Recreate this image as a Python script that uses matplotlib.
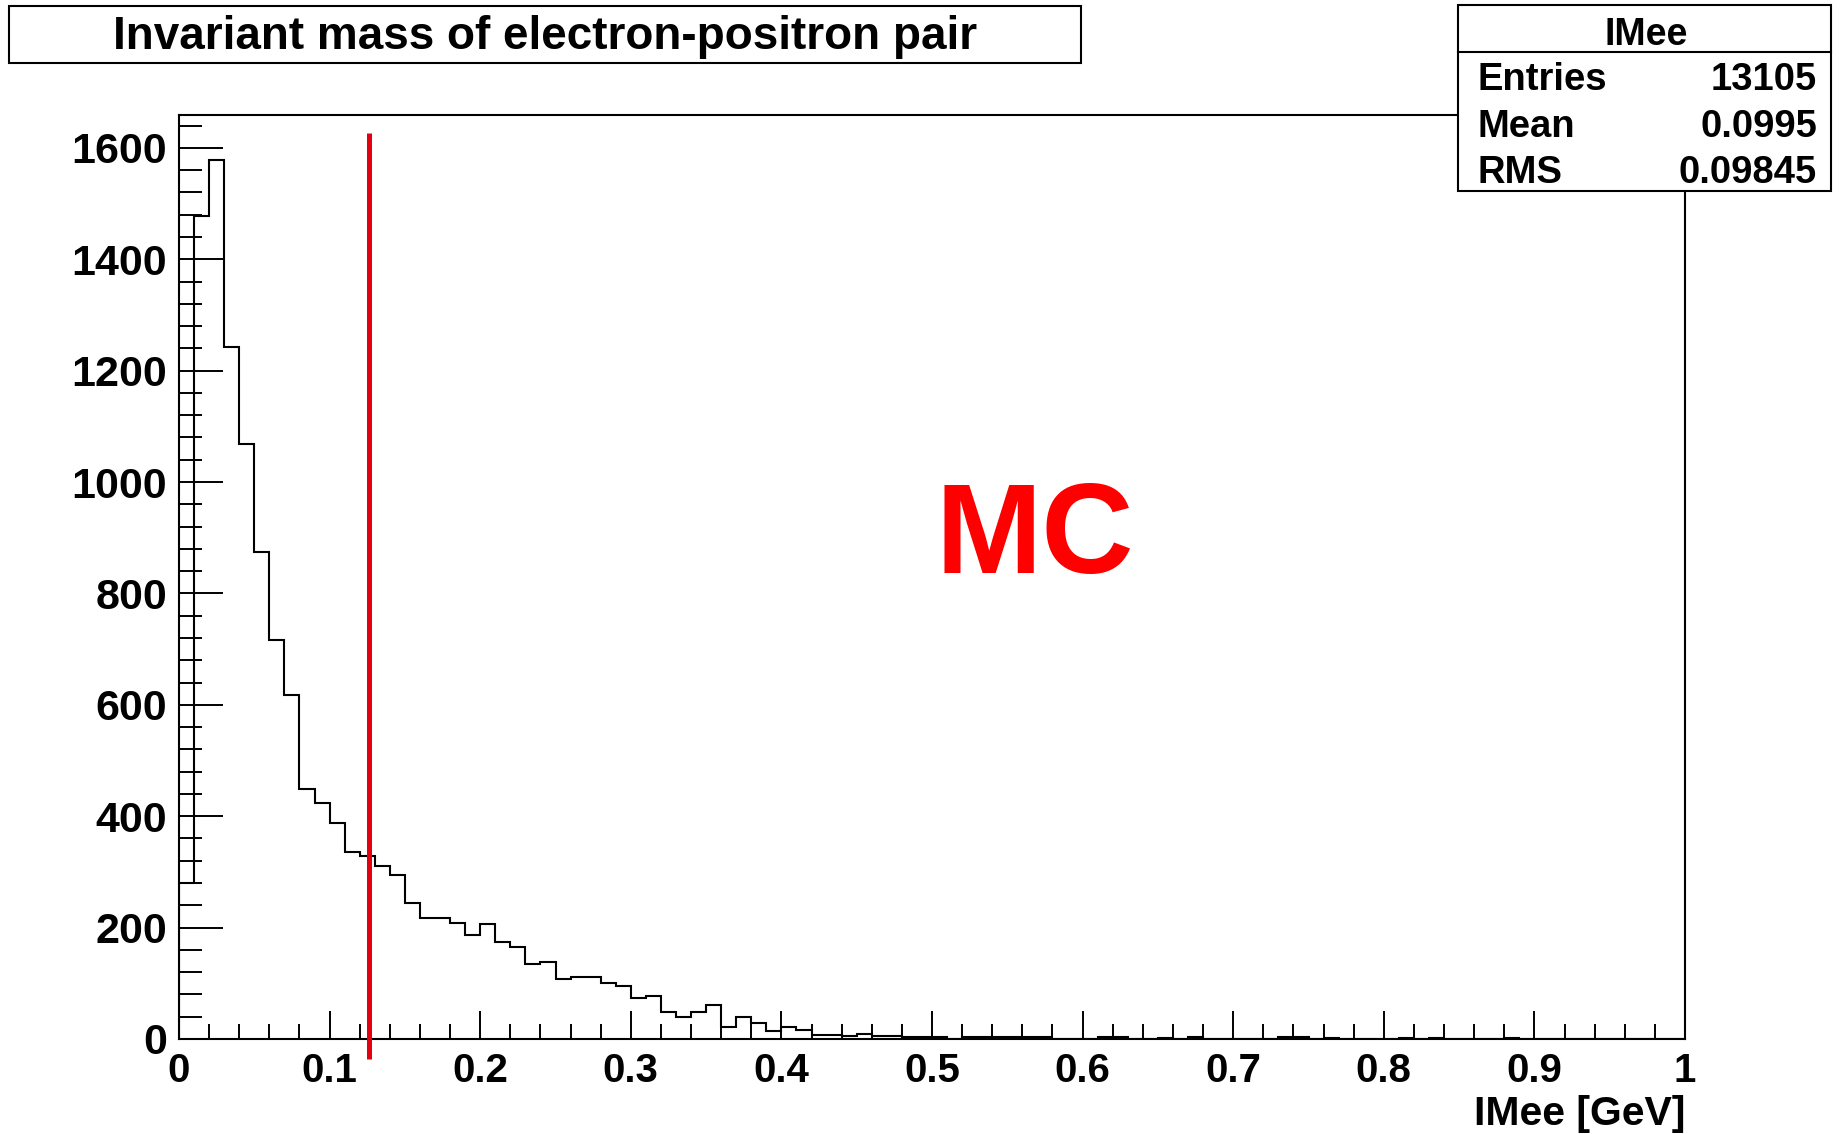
import numpy as np
import matplotlib
matplotlib.use("Agg")
import matplotlib.pyplot as plt
from matplotlib.patches import Rectangle
from matplotlib.ticker import MultipleLocator

# Histogram of e+e- invariant mass: 100 bins over [0, 1] GeV
bin_lo, bin_hi, n_bins = 0.0, 1.0, 100
counts = [
    280, 1478, 1578, 1243, 1069, 875, 716, 618, 448, 423,
    387, 335, 329, 311, 294, 245, 218, 218, 209, 187,
    207, 175, 166, 135, 138, 107, 111, 111, 101, 95,
    73, 77, 49, 39, 49, 61, 21, 39, 28, 15,
    21, 17, 8, 8, 5, 9, 5, 5, 4, 4,
    3, 0, 3, 3, 3, 3, 3, 3, 0, 0,
    0, 3, 3, 0, 0, 2, 0, 3, 0, 0,
    0, 0, 0, 3, 3, 0, 2, 0, 0, 0,
    0, 2, 0, 2, 0, 0, 0, 0, 2, 0,
    0, 0, 0, 0, 0, 0, 0, 0, 0, 0,
]
cut_value = 0.1264
cut_span = (-36, 1627)

title_text = "Invariant mass of electron-positron pair"
xlabel_text = "IMee [GeV]"
hist_name = "IMee"
stat_labels = ["Entries", "Mean", "RMS"]
stat_values = ["13105", "0.0995", "0.09845"]
tag_text = "MC"

W, H, DPI = 1841, 1134, 100
plt.rcParams['font.family'] = ['Liberation Sans', 'DejaVu Sans']
plt.rcParams['font.weight'] = 'bold'

fig = plt.figure(figsize=(W / DPI, H / DPI), dpi=DPI)
fig.patch.set_facecolor('white')


def fx(px):
    return px / W


def fy(py):
    return 1 - py / H


# plot frame in pixel units
left, right, top, bottom = 179, 1685, 115, 1039
ax = fig.add_axes([fx(left), fy(bottom), fx(right - left), (bottom - top) / H])

edges = np.linspace(bin_lo, bin_hi, n_bins + 1)
ax.stairs(counts, edges, color='black', lw=1.5, baseline=0)

ax.set_xlim(0, 1)
ax.set_ylim(0, 1659)

ax.xaxis.set_major_locator(MultipleLocator(0.1))
ax.xaxis.set_minor_locator(MultipleLocator(0.02))
ax.yaxis.set_major_locator(MultipleLocator(200))
ax.yaxis.set_minor_locator(MultipleLocator(40))
ax.xaxis.set_major_formatter(matplotlib.ticker.FuncFormatter(
    lambda v, p: f"{v:g}"))

ax.tick_params(axis='x', which='major', direction='in', length=20, width=1.4,
               labelsize=29, pad=9.5)
ax.tick_params(axis='x', which='minor', direction='in', length=10.8, width=1.4)
ax.tick_params(axis='y', which='major', direction='in', length=31.7, width=1.4,
               labelsize=31, pad=8.6)
ax.tick_params(axis='y', which='minor', direction='in', length=16.6, width=1.4)
for lab in ax.get_xticklabels() + ax.get_yticklabels():
    lab.set_fontweight('bold')
for s in ax.spines.values():
    s.set_linewidth(1.5)

# selection cut
ax.plot([cut_value, cut_value], cut_span, color='#e3000f', lw=3.6,
        clip_on=False, solid_capstyle='butt', zorder=5)

ax.text(1035 / W, fy(572.7), tag_text, transform=fig.transFigure,
        color='#ff0000', fontsize=92, fontweight='bold',
        ha='center', va='baseline')

fig.text(fx(1685), fy(1125), xlabel_text, fontsize=29.5, fontweight='bold',
         ha='right', va='baseline')

# title box
fig.add_artist(Rectangle((fx(9), fy(63)), fx(1072), (63 - 6) / H,
                         transform=fig.transFigure, facecolor='white',
                         edgecolor='black', lw=1.5, zorder=10))
fig.text(fx(545), fy(49), title_text, fontsize=33, fontweight='bold',
         ha='center', va='baseline', zorder=11)

# statistics box
bx0, bx1, by0, by1, bsep = 1458, 1831, 5, 190.7, 51.7
fig.add_artist(Rectangle((fx(bx0), fy(by1)), fx(bx1 - bx0), (by1 - by0) / H,
                         transform=fig.transFigure, facecolor='white',
                         edgecolor='black', lw=1.5, zorder=10))
fig.add_artist(matplotlib.lines.Line2D([fx(bx0), fx(bx1)], [fy(bsep), fy(bsep)],
                                       transform=fig.transFigure, color='black',
                                       lw=1.5, zorder=11))
fig.text(fx(1646), fy(45), hist_name, fontsize=27, fontweight='bold',
         ha='center', va='baseline', zorder=12)
for lbl, val, base in zip(stat_labels, stat_values, [90.5, 137, 183]):
    fig.text(fx(1478), fy(base), lbl, fontsize=27.5, fontweight='bold',
             ha='left', va='baseline', zorder=12)
    fig.text(fx(1817), fy(base), val, fontsize=27.5, fontweight='bold',
             ha='right', va='baseline', zorder=12)

fig.savefig("out.png", dpi=DPI, facecolor='white')
